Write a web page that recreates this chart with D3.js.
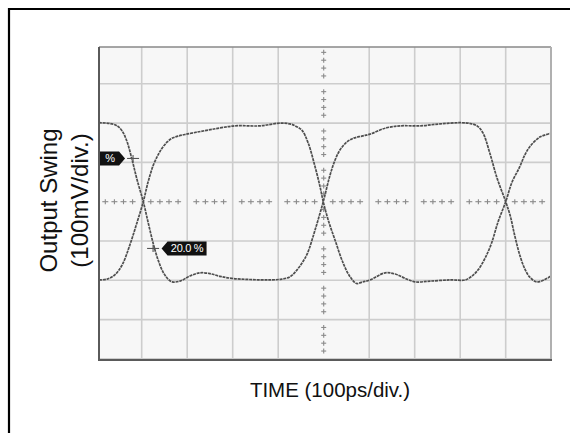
<!DOCTYPE html>
<html>
<head>
<meta charset="utf-8">
<script src="https://cdn.jsdelivr.net/npm/d3@7"></script>
<style>
  body { margin: 0; background: #fff; }
  svg { display: block; }
</style>
</head>
<body>
<svg id="chart" width="570" height="433"></svg>
<script>
// Eye pattern traces: [time in ps, amplitude in mV]
const fallingFirst = [[6,201],[30,199],[46,193],[57,180],[68,152],[79,106],[90,55],[103.5,0],[114,-52],[125,-105],[136,-148],[147,-179],[158,-197],[167,-204],[184,-202],[206,-189],[228,-181],[250,-183],[272,-190],[298,-195],[338,-198],[382,-199],[408,-197],[426,-191],[441,-174],[454,-153],[464,-132],[481,-72],[499,0],[514,68],[525,106],[536,132],[551,152],[564,161],[584,167],[602,172],[635,187],[668,193],[712,193],[756,198],[800,201],[822,199],[837,193],[850,175],[865,124],[881,60],[900,0],[910,-36],[920,-87],[931,-136],[942,-171],[953,-192],[968,-204],[984,-199],[1000,-189]];
const risingFirst = [[6,-199],[24,-197],[41,-186],[57,-161],[74,-110],[90,-52],[103.5,0],[114,50],[125.5,93],[136,119],[144,135],[156,152],[166,161],[180,167],[195,171],[217,176],[254,184],[305,193],[360,193],[404,200],[426,198],[437,193],[452,182],[466,149],[481,89],[492,38],[499,0],[510,-47],[525,-98],[543,-157],[558,-191],[572,-208],[586,-204],[602,-199],[635,-181],[657,-184],[679,-195],[701,-204],[734,-202],[778,-199],[811,-199],[826,-189],[839,-174],[855,-143],[869,-105],[883,-52],[900,0],[914,50],[931,89],[942,119],[953,140],[976,165],[1000,174]];

// Measurement cursors (80 % and 20 % of the swing on the falling edge)
const cursorTime = [81, 125];
const cursorLevel = [110, -119];
const cursorText = ["%", "20.0 %"];

// Graticule: 100 ps and 100 mV per division
const timeTicks = d3.range(0, 1001, 100);
const voltTicks = d3.range(-400, 401, 100);
const yTitleLines = ["Output Swing", "(100mV/div.)"];
const xTitle = "TIME (100ps/div.)";

const svg = d3.select("#chart");
const font = "'Liberation Sans', Arial, Helvetica, sans-serif";
const box = { l: 99, t: 47, r: 551, b: 360 };

const x = d3.scaleLinear().domain([0, 1000]).range([96.2, 551.2]);
const y = d3.scaleLinear().domain([-400, 400]).range([358.9, 44.5]);

// outer border
svg.append("path")
  .attr("d", "M9,433V9H570")
  .attr("fill", "none").attr("stroke", "#000").attr("stroke-width", 2.2);

svg.append("defs").append("clipPath").attr("id", "plotClip")
  .append("rect")
  .attr("x", box.l).attr("y", box.t)
  .attr("width", box.r - box.l).attr("height", box.b - box.t);

svg.append("rect")
  .attr("x", box.l).attr("y", box.t)
  .attr("width", box.r - box.l).attr("height", box.b - box.t)
  .attr("fill", "#f7f7f7");

const plot = svg.append("g").attr("clip-path", "url(#plotClip)");

// major grid
const grid = plot.append("g").attr("stroke", "#cdcdcd").attr("stroke-width", 1.6);
grid.selectAll("line.v").data(timeTicks.filter(t => t !== 500)).join("line")
  .attr("class", "v")
  .attr("x1", d => x(d)).attr("x2", d => x(d))
  .attr("y1", box.t).attr("y2", box.b);
grid.selectAll("line.h").data(voltTicks.filter(v => v !== 0)).join("line")
  .attr("class", "h")
  .attr("y1", d => y(d)).attr("y2", d => y(d))
  .attr("x1", box.l).attr("x2", box.r);

// centre axes with minor ticks every 0.2 division
const minorT = d3.range(0, 1001, 20).filter(t => t % 100 !== 0);
const minorV = d3.range(-400, 401, 20).filter(v => v % 100 !== 0);
const ctr = plot.append("g").attr("stroke", "#8a8a8a").attr("stroke-width", 1.1);
minorT.forEach(t => {
  ctr.append("line").attr("x1", x(t) - 3).attr("x2", x(t) + 3).attr("y1", y(0)).attr("y2", y(0));
  ctr.append("line").attr("x1", x(t)).attr("x2", x(t)).attr("y1", y(0) - 2.5).attr("y2", y(0) + 2.5);
});
minorV.forEach(v => {
  ctr.append("line").attr("x1", x(500)).attr("x2", x(500)).attr("y1", y(v) - 2.5).attr("y2", y(v) + 2.5);
  ctr.append("line").attr("x1", x(500) - 2.5).attr("x2", x(500) + 2.5).attr("y1", y(v)).attr("y2", y(v));
});

// traces
const line = d3.line()
  .x(d => x(d[0])).y(d => y(d[1]))
  .curve(d3.curveCatmullRom.alpha(0.5));
[fallingFirst, risingFirst].forEach(tr => {
  plot.append("path").datum(tr)
    .attr("d", line)
    .attr("fill", "none")
    .attr("stroke", "#4e4e4e")
    .attr("stroke-width", 1.7)
    .attr("stroke-dasharray", "3,0.8");
});

// cursors and their readouts
cursorTime.forEach((t, i) => {
  const cx = x(t), cy = y(cursorLevel[i]);
  const g = plot.append("g");
  g.append("line").attr("x1", cx - 6).attr("x2", cx + 6).attr("y1", cy).attr("y2", cy)
    .attr("stroke", "#555").attr("stroke-width", 1.1);
  g.append("line").attr("x1", cx).attr("x2", cx).attr("y1", cy - 3.5).attr("y2", cy + 3.5)
    .attr("stroke", "#555").attr("stroke-width", 1.1);
  const h = 7;
  if (cursorLevel[i] > 0) {
    const tip = cx - 8;
    g.append("path")
      .attr("d", `M${tip},${cy}L${tip - 6},${cy - h}H${tip - 46}V${cy + h}H${tip - 6}Z`)
      .attr("fill", "#111");
    g.append("text").attr("x", tip - 10).attr("y", cy + 4)
      .attr("text-anchor", "end").attr("fill", "#fff")
      .attr("font-family", font).attr("font-size", 11)
      .text(cursorText[i]);
  } else {
    const tip = cx + 8.5;
    g.append("path")
      .attr("d", `M${tip},${cy}L${tip + 6},${cy - h}H${tip + 45}V${cy + h}H${tip + 6}Z`)
      .attr("fill", "#111");
    g.append("text").attr("x", tip + 25.5).attr("y", cy + 4)
      .attr("text-anchor", "middle").attr("fill", "#fff")
      .attr("font-family", font).attr("font-size", 11).attr("letter-spacing", -0.3)
      .text(cursorText[i]);
  }
});

// frame
svg.append("line").attr("x1", box.l).attr("x2", box.r).attr("y1", box.t).attr("y2", box.t)
  .attr("stroke", "#888").attr("stroke-width", 1.5);
svg.append("line").attr("x1", box.r).attr("x2", box.r).attr("y1", box.t).attr("y2", box.b)
  .attr("stroke", "#b0b0b0").attr("stroke-width", 2);
svg.append("line").attr("x1", box.l).attr("x2", box.l).attr("y1", box.t).attr("y2", box.b + 1)
  .attr("stroke", "#5a5a5a").attr("stroke-width", 2);
svg.append("line").attr("x1", box.l).attr("x2", box.r + 1).attr("y1", box.b).attr("y2", box.b)
  .attr("stroke", "#5a5a5a").attr("stroke-width", 2);

// axis titles
const yt = svg.append("text")
  .attr("transform", "translate(0,200.5) rotate(-90)")
  .attr("text-anchor", "middle")
  .attr("font-family", font).attr("font-size", 24).attr("fill", "#111");
yt.append("tspan").attr("x", 0).attr("y", 57).text(yTitleLines[0]);
yt.append("tspan").attr("x", 0).attr("y", 87.5).text(yTitleLines[1]);

svg.append("text")
  .attr("x", 330).attr("y", 396.5)
  .attr("text-anchor", "middle")
  .attr("font-family", font).attr("font-size", 20.5).attr("fill", "#111")
  .text(xTitle);
</script>
</body>
</html>
